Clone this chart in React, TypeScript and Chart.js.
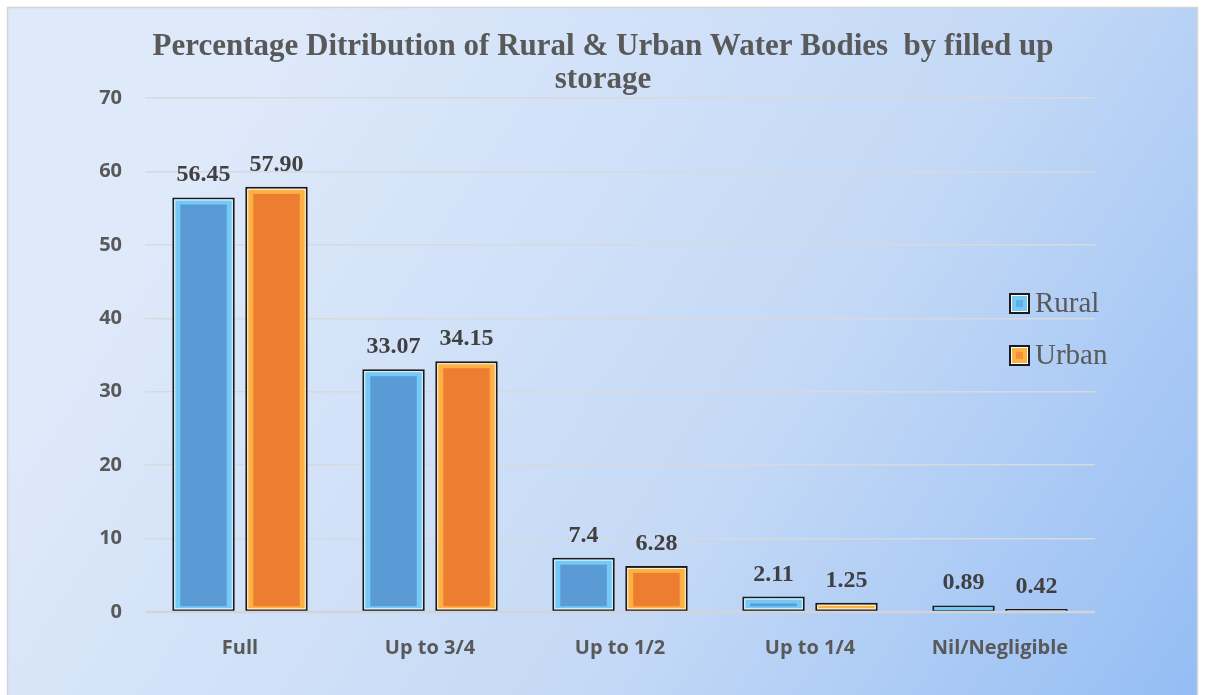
import React, { useEffect, useRef } from "react";
import { Chart, registerables } from "chart.js";

Chart.register(...registerables);

const categories = ["Full", "Up to 3/4", "Up to 1/2", "Up to 1/4", "Nil/Negligible"];
const seriesNames = ["Rural", "Urban"];
const ruralValues = ["56.45", "33.07", "7.4", "2.11", "0.89"];
const urbanValues = ["57.90", "34.15", "6.28", "1.25", "0.42"];
const titleLines = ["Percentage Ditribution of Rural & Urban Water Bodies  by filled up", "storage"];
const yMin = 0;
const yMax = 70;
const yStep = 10;

const bandColors = ["#74c9f6", "#fcb142"];
const fillColors = ["#5b9bd5", "#ed7d31"];

export default function App() {
  const ref = useRef<HTMLCanvasElement>(null);

  useEffect(() => {
    document.body.style.margin = "0";
    const canvas = ref.current!;
    const seriesText = [ruralValues, urbanValues];

    const bgPlugin = {
      id: "bg",
      beforeDraw(chart: any) {
        const { ctx, width, height } = chart;
        ctx.save();
        ctx.fillStyle = "#ffffff";
        ctx.fillRect(0, 0, width, height);
        const g = ctx.createLinearGradient(250, 80, 1200, 695);
        g.addColorStop(0, "#dee9fa");
        g.addColorStop(0.55, "#c4d9f6");
        g.addColorStop(1, "#94bdf4");
        ctx.fillStyle = g;
        ctx.fillRect(7, 7, 1191, height);
        ctx.strokeStyle = "#d6d6d6";
        ctx.lineWidth = 1.5;
        ctx.strokeRect(7.5, 7.5, 1190, height + 10);
        ctx.restore();
      },
    };

    const titlePlugin = {
      id: "customTitle",
      afterDraw(chart: any) {
        const { ctx } = chart;
        ctx.save();
        ctx.fillStyle = "#595959";
        ctx.font = 'bold 31px "Liberation Serif"';
        ctx.textAlign = "center";
        ctx.textBaseline = "alphabetic";
        ctx.fillText(titleLines[0], 603, 55);
        ctx.fillText(titleLines[1], 603, 88);
        ctx.restore();
      },
    };

    const barDeco = {
      id: "barDeco",
      afterDatasetsDraw(chart: any) {
        const { ctx, chartArea } = chart;
        ctx.save();
        chart.data.datasets.forEach((ds: any, i: number) => {
          const meta = chart.getDatasetMeta(i);
          meta.data.forEach((el: any, j: number) => {
            const { x, y, base, width } = el.getProps(["x", "y", "base", "width"], true);
            const l = x - width / 2;
            const t = Math.min(y, base);
            const b = Math.max(y, base);
            const h = b - t;
            if (h > 6) {
              ctx.strokeStyle = "rgba(255,255,255,0.85)";
              ctx.lineWidth = 1;
              ctx.strokeRect(l + 2.5, t + 2.5, width - 5, h - 5);
            } else {
              ctx.fillStyle = h > 4.5 ? bandColors[i] : "#f4f6f8";
              ctx.fillRect(l + 2, t + 1.5, width - 4, Math.max(h - 2.5, 1));
            }
            if (h > 14) {
              ctx.fillStyle = fillColors[i];
              ctx.fillRect(l + 8, t + 7, width - 16, h - 12);
            }
            ctx.fillStyle = "#404040";
            ctx.font = 'bold 24px "Liberation Serif"';
            ctx.textAlign = "center";
            ctx.textBaseline = "alphabetic";
            ctx.fillText(seriesText[i][j], x, t - 16);
          });
        });
        const y0 = chart.scales.y.getPixelForValue(0);
        ctx.strokeStyle = "#d2d4d8";
        ctx.lineWidth = 2.5;
        ctx.beginPath();
        ctx.moveTo(chartArea.left, y0);
        ctx.lineTo(chartArea.right, y0);
        ctx.stroke();
        ctx.restore();
      },
    };

    const legendPlugin = {
      id: "customLegend",
      afterDraw(chart: any) {
        const { ctx } = chart;
        ctx.save();
        chart.data.datasets.forEach((ds: any, i: number) => {
          const bx = 1009;
          const by = 293 + i * 52;
          const s = 21;
          ctx.fillStyle = bandColors[i];
          ctx.fillRect(bx, by, s, s);
          ctx.fillStyle = fillColors[i];
          ctx.globalAlpha = 0.6;
          ctx.fillRect(bx + 7, by + 7, s - 14, s - 14);
          ctx.globalAlpha = 1;
          ctx.strokeStyle = "#ffffff";
          ctx.lineWidth = 1;
          ctx.strokeRect(bx + 2.5, by + 2.5, s - 5, s - 5);
          ctx.strokeStyle = "#1a1a1a";
          ctx.lineWidth = 2;
          ctx.strokeRect(bx + 1, by + 1, s - 2, s - 2);
          ctx.fillStyle = "#595959";
          ctx.font = '29px "Liberation Serif"';
          ctx.textAlign = "left";
          ctx.textBaseline = "alphabetic";
          ctx.fillText(ds.label, 1035, 312 + i * 52);
        });
        ctx.restore();
      },
    };

    const chart = new Chart(canvas, {
      type: "bar",
      data: {
        labels: categories,
        datasets: [
          {
            label: seriesNames[0],
            data: ruralValues.map(Number),
            backgroundColor: bandColors[0],
            borderColor: "#1a1a1a",
            borderWidth: 2,
            borderSkipped: false,
            categoryPercentage: 0.768,
            barPercentage: 0.856,
          },
          {
            label: seriesNames[1],
            data: urbanValues.map(Number),
            backgroundColor: bandColors[1],
            borderColor: "#1a1a1a",
            borderWidth: 2,
            borderSkipped: false,
            categoryPercentage: 0.768,
            barPercentage: 0.856,
          },
        ],
      },
      options: {
        animation: false,
        responsive: false,
        devicePixelRatio: 1,
        layout: { padding: { left: 0, right: 110, top: 98, bottom: 33 } },
        plugins: {
          legend: { display: false },
          title: { display: false },
          tooltip: { enabled: false },
        },
        scales: {
          x: {
            grid: { display: false },
            border: { display: false },
            ticks: {
              color: "#595959",
              font: { family: "Open Sans", weight: "bold", size: 20 },
              padding: 16,
              maxRotation: 0,
            },
            afterFit(s: any) {
              s.height = 50;
            },
          },
          y: {
            min: yMin,
            max: yMax,
            grid: { color: "#d6d9de", lineWidth: 1.5, drawTicks: false },
            border: { display: false },
            ticks: {
              stepSize: yStep,
              color: "#595959",
              font: { family: "Open Sans", weight: "bold", size: 20 },
              padding: 23,
            },
            afterFit(s: any) {
              s.width = 145;
            },
          },
        },
      },
      plugins: [bgPlugin, barDeco, titlePlugin, legendPlugin],
    });

    return () => chart.destroy();
  }, []);

  return (
    <div style={{ width: 1205, height: 695, position: "relative" }}>
      <canvas ref={ref} width={1205} height={695} style={{ display: "block" }} />
    </div>
  );
}
